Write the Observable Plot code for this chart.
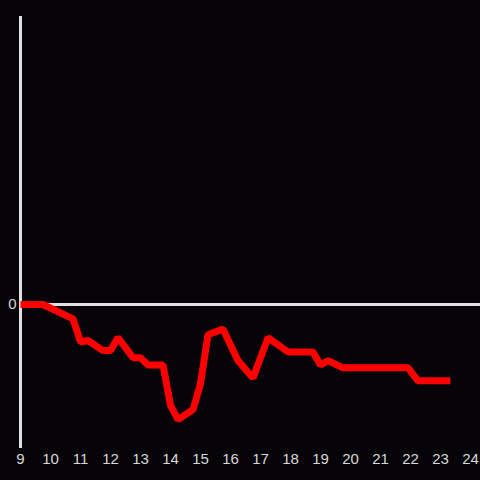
<!DOCTYPE html>
<html>
<head>
<meta charset="utf-8">
<script src="https://cdn.jsdelivr.net/npm/d3@7"></script>
<script src="https://cdn.jsdelivr.net/npm/@observablehq/plot@0.6"></script>
<style>
  html, body { margin: 0; padding: 0; background: #060408; }
</style>
</head>
<body>
<div id="chart"></div>
<script>
const hours = [9, 9.75, 10.75, 11, 11.25, 11.75, 12, 12.25, 12.75, 13, 13.25, 13.75, 14, 14.25, 14.75, 15, 15.25, 15.75, 16.25, 16.75, 17.25, 17.92, 18.75, 19, 19.25, 19.75, 21.92, 22.25, 23.33];
const values = [0, 0, -0.10, -0.26, -0.25, -0.32, -0.32, -0.23, -0.37, -0.37, -0.42, -0.42, -0.70, -0.80, -0.73, -0.55, -0.21, -0.17, -0.39, -0.51, -0.23, -0.33, -0.33, -0.42, -0.39, -0.44, -0.44, -0.53, -0.53];
const xTicks = [9, 10, 11, 12, 13, 14, 15, 16, 17, 18, 19, 20, 21, 22, 23, 24];
const yTicks = [0];

const data = hours.map((h, i) => ({x: h, y: values[i]}));

const chart = Plot.plot({
  width: 480,
  height: 480,
  marginLeft: 20,
  marginRight: 10,
  marginTop: 16,
  marginBottom: 32,
  style: {background: "#060408", color: "#d8d8d8", fontFamily: "Liberation Sans, Arial, sans-serif", fontSize: "15px"},
  x: {domain: [9, 24], label: null},
  y: {domain: [-1, 2], label: null},
  marks: [
    Plot.axisX({ticks: xTicks, tickFormat: d => String(d), tickSize: 0, tickPadding: 5, fontSize: 15, fill: "#d8d8d8", label: null}),
    Plot.axisY({ticks: yTicks, tickFormat: d => String(d), tickSize: 0, tickPadding: 4, fontSize: 15, fill: "#d8d8d8", label: null}),
    Plot.ruleY([0], {stroke: "#e0e0e0", strokeWidth: 3, insetRight: -10}),
    Plot.ruleX([9], {stroke: "#e0e0e0", strokeWidth: 3}),
    Plot.line(data, {x: "x", y: "y", stroke: "#ff0000", strokeWidth: 7, strokeLinejoin: "miter", strokeLinecap: "butt"})
  ]
});
document.getElementById("chart").appendChild(chart);
</script>
</body>
</html>
